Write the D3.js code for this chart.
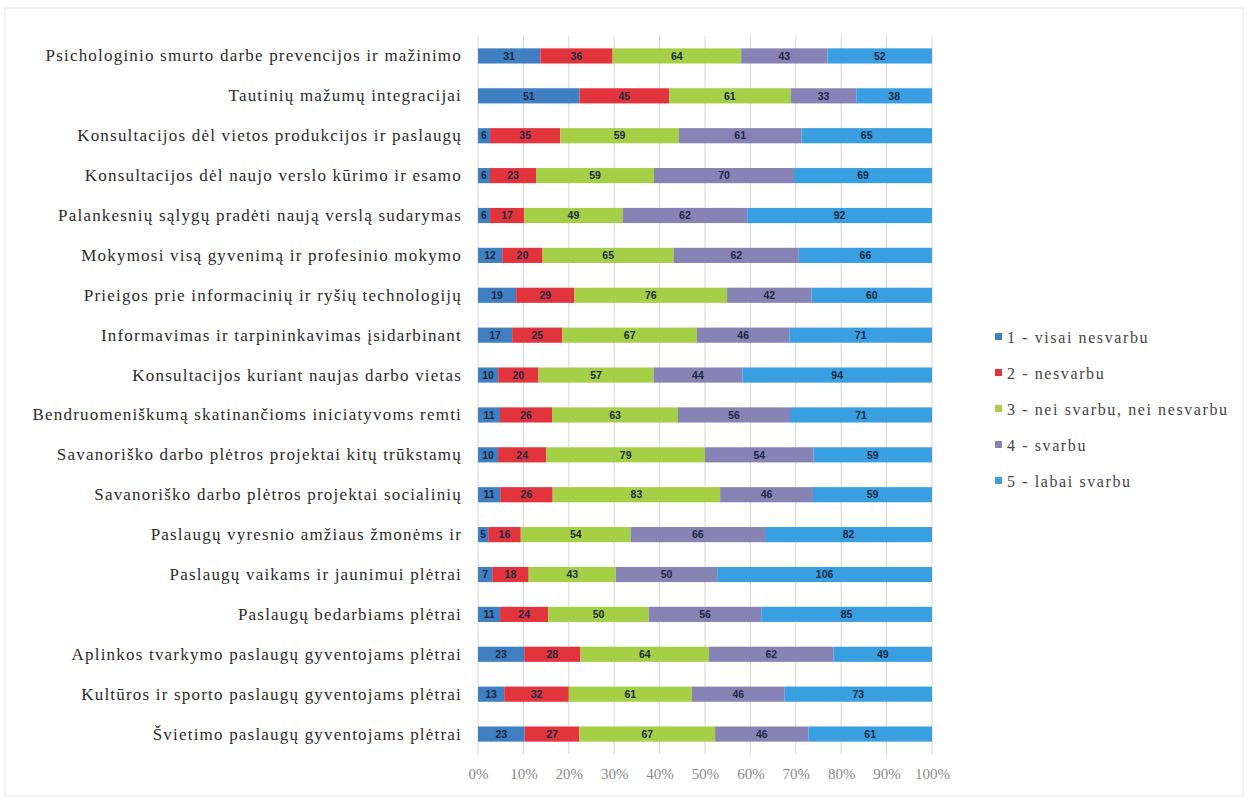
<!DOCTYPE html>
<html lang="lt">

<head>
  <meta charset="utf-8">
  <title>Svarba</title>
  <script src="https://d3js.org/d3.v7.min.js" charset="utf-8"></script>
  <style type="text/css">
    body {
      margin: 0;
      background: #fff;
    }

    .cat text {
      font-family: "Liberation Serif", "DejaVu Serif", serif;
      font-size: 17px;
      fill: #2b2b2b;
      letter-spacing: 1.2px;
    }

    .xaxis text {
      font-family: "Liberation Serif", serif;
      font-size: 15px;
      fill: #8a8a8a;
    }

    .val {
      font-family: "Liberation Sans", sans-serif;
      font-size: 10.5px;
      font-weight: bold;
      fill: #1d2a44;
    }

    .legend text {
      font-family: "Liberation Serif", serif;
      font-size: 16px;
      fill: #444;
      letter-spacing: 1.6px;
    }
  </style>
</head>

<body>
  <script type="text/javascript">

    // categories, top to bottom
    var categories = [
      "Psichologinio smurto darbe prevencijos ir mažinimo",
      "Tautinių mažumų integracijai",
      "Konsultacijos dėl vietos produkcijos ir paslaugų",
      "Konsultacijos dėl naujo verslo kūrimo ir esamo",
      "Palankesnių sąlygų pradėti naują verslą sudarymas",
      "Mokymosi visą gyvenimą ir profesinio mokymo",
      "Prieigos prie informacinių ir ryšių technologijų",
      "Informavimas ir tarpininkavimas įsidarbinant",
      "Konsultacijos kuriant naujas darbo vietas",
      "Bendruomeniškumą skatinančioms iniciatyvoms remti",
      "Savanoriško darbo plėtros projektai kitų trūkstamų",
      "Savanoriško darbo plėtros projektai socialinių",
      "Paslaugų vyresnio amžiaus žmonėms ir",
      "Paslaugų vaikams ir jaunimui plėtrai",
      "Paslaugų bedarbiams plėtrai",
      "Aplinkos tvarkymo paslaugų gyventojams plėtrai",
      "Kultūros ir sporto paslaugų gyventojams plėtrai",
      "Švietimo paslaugų gyventojams plėtrai"
    ];

    var seriesNames = ["1 - visai nesvarbu", "2 - nesvarbu", "3 - nei svarbu, nei nesvarbu", "4 - svarbu", "5 - labai svarbu"];

    var s1 = [31, 51, 6, 6, 6, 12, 19, 17, 10, 11, 10, 11, 5, 7, 11, 23, 13, 23];
    var s2 = [36, 45, 35, 23, 17, 20, 29, 25, 20, 26, 24, 26, 16, 18, 24, 28, 32, 27];
    var s3 = [64, 61, 59, 59, 49, 65, 76, 67, 57, 63, 79, 83, 54, 43, 50, 64, 61, 67];
    var s4 = [43, 33, 61, 70, 62, 62, 42, 46, 44, 56, 54, 46, 66, 50, 56, 62, 46, 46];
    var s5 = [52, 38, 65, 69, 92, 66, 60, 71, 94, 71, 59, 59, 82, 106, 85, 49, 73, 61];

    var tickValues = [0, 0.1, 0.2, 0.3, 0.4, 0.5, 0.6, 0.7, 0.8, 0.9, 1];

    var colors = ["#3f7fc2", "#e2343d", "#a6cf48", "#8783b5", "#3a9fe0"];

    var width = 1248, height = 800;
    var margin = { left: 478, right: 316, top: 36, bottom: 46 };
    var innerW = width - margin.left - margin.right;
    var innerH = height - margin.top - margin.bottom;

    var svg = d3.select("body").append("svg")
      .attr("width", width)
      .attr("height", height);

    // faint frame
    svg.append("rect")
      .attr("x", 5).attr("y", 8)
      .attr("width", width - 10).attr("height", height - 12)
      .attr("fill", "none")
      .attr("stroke", "#e6e6e6");

    var g = svg.append("g")
      .attr("transform", "translate(" + margin.left + "," + margin.top + ")");

    var allSeries = [s1, s2, s3, s4, s5];
    var rows = categories.map(function (c, i) {
      var vals = allSeries.map(function (s) { return s[i]; });
      var total = d3.sum(vals);
      var acc = 0;
      var segs = vals.map(function (v, k) {
        var seg = { k: k, v: v, x0: acc / total, x1: (acc + v) / total };
        acc += v;
        return seg;
      });
      return { cat: c, segs: segs };
    });

    var x = d3.scaleLinear().domain([0, 1]).range([0, innerW]);
    var y = d3.scaleBand().domain(categories).range([0, innerH]).paddingInner(0.62).paddingOuter(0.31);

    // grid
    g.append("g")
      .selectAll("line")
      .data(tickValues)
      .enter()
      .append("line")
      .attr("x1", function (d) { return x(d); })
      .attr("x2", function (d) { return x(d); })
      .attr("y1", 0)
      .attr("y2", innerH)
      .attr("stroke", "#d6d6d6")
      .attr("stroke-width", 1);

    // bars
    var rowG = g.selectAll(".row")
      .data(rows)
      .enter()
      .append("g")
      .attr("class", "row")
      .attr("transform", function (d) { return "translate(0," + y(d.cat) + ")"; });

    rowG.selectAll("rect")
      .data(function (d) { return d.segs; })
      .enter()
      .append("rect")
      .attr("x", function (d) { return x(d.x0); })
      .attr("width", function (d) { return x(d.x1) - x(d.x0); })
      .attr("height", y.bandwidth())
      .attr("fill", function (d) { return colors[d.k]; });

    rowG.selectAll("text")
      .data(function (d) { return d.segs; })
      .enter()
      .append("text")
      .attr("class", "val")
      .attr("x", function (d) { return (x(d.x0) + x(d.x1)) / 2; })
      .attr("y", y.bandwidth() / 2)
      .attr("dy", "0.35em")
      .attr("text-anchor", "middle")
      .text(function (d) { return d.v; });

    // category axis
    var yAxis = g.append("g")
      .attr("class", "cat")
      .call(d3.axisLeft(y).tickSize(0).tickPadding(16));
    yAxis.select(".domain").remove();

    // x axis
    var xAxis = g.append("g")
      .attr("class", "xaxis")
      .attr("transform", "translate(0," + innerH + ")")
      .call(d3.axisBottom(x).tickValues(tickValues).tickSize(0).tickPadding(14).tickFormat(d3.format(".0%")));
    xAxis.select(".domain").remove();

    // legend
    var legend = svg.append("g")
      .attr("class", "legend")
      .attr("transform", "translate(995,337)");

    var item = legend.selectAll("g")
      .data(seriesNames)
      .enter()
      .append("g")
      .attr("transform", function (d, i) { return "translate(0," + i * 36 + ")"; });

    item.append("rect")
      .attr("x", 0).attr("y", -4)
      .attr("width", 7).attr("height", 7)
      .attr("fill", function (d, i) { return colors[i]; });

    item.append("text")
      .attr("x", 12)
      .attr("dy", "0.35em")
      .text(function (d) { return d; });

  </script>
</body>

</html>
